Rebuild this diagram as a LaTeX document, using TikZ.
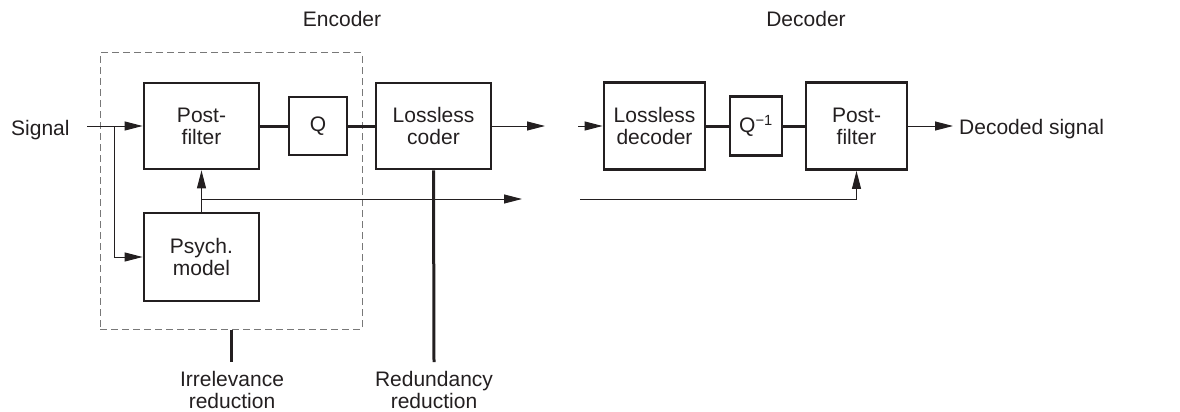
\documentclass[tikz,border=0pt]{standalone}
\usepackage{fontspec}
\setmainfont{Liberation Sans}
\usetikzlibrary{arrows.meta}
\definecolor{ink}{RGB}{35,31,32}
\definecolor{frame}{RGB}{120,120,120}
\tikzset{
  blk/.style={draw=ink, line width=2.8pt, inner sep=0pt, align=center,
    text=ink, font=\fontsize{21}{22}\selectfont},
  lbl/.style={inner sep=0pt, text=ink, font=\fontsize{21}{22}\selectfont},
  sig/.style={draw=ink, line width=1pt},
  arr/.style={sig, -{Triangle[length=18pt,width=9pt]}},
  bus/.style={draw=ink, line width=3pt},
  grp/.style={draw=frame, line width=1pt, dash pattern=on 7pt off 4pt,
    inner sep=0pt},
}
\begin{document}
\begin{tikzpicture}[x=1pt, y=-1pt]
\useasboundingbox (0,0) rectangle (1180,412);

% encoder group
\node[grp, minimum width=262pt, minimum height=276pt] (enc) at (231,191) {};

% encoder blocks
\node[blk, minimum width=115pt, minimum height=86pt] (pf1) at (201.5,126) {Post-\\filter};
\node[blk, minimum width=58pt, minimum height=58pt] (q) at (318,126) {Q};
\node[blk, minimum width=115pt, minimum height=86pt] (lc) at (433.5,126) {Lossless\\coder};
\node[blk, minimum width=115pt, minimum height=88pt] (pm) at (201.5,257) {Psych.\\model};

% decoder blocks
\node[blk, minimum width=101pt, minimum height=87pt] (ld) at (654.5,126) {Lossless\\decoder};
\node[blk, minimum width=52pt, minimum height=59pt] (qi) at (756,126) {Q\textsuperscript{−1}};
\node[blk, minimum width=101pt, minimum height=87pt] (pf2) at (856.5,126) {Post-\\filter};

% labels
\node[lbl, anchor=base] (enclbl) at (342,27) {Encoder};
\node[lbl, anchor=base] (declbl) at (806,27) {Decoder};
\node[lbl, anchor=base west] (sigin) at (11,135) {Signal};
\node[lbl, anchor=base west] (sigout) at (959,134) {Decoded signal};
\node[lbl, align=center, anchor=north] (irl) at (232,371) {Irrelevance\\reduction};
\node[lbl, align=center, anchor=north] (rdl) at (434,371) {Redundancy\\reduction};

% helper points
\coordinate (s0) at (87,126);
\coordinate (br) at (114,126);
\coordinate (tap) at (201.5,199);
\coordinate (f1) at (522,199);
\coordinate (f2) at (580,199);
\coordinate (o1) at (545,126);
\coordinate (i1) at (578,126);
\coordinate (o2) at (953,126);
\coordinate (irr) at (231,362);
\coordinate (rdd) at (434,362);

% signal input
\draw[arr] (s0) -- (pf1.west);
\draw[arr] (br) |- (pm.west);

% side information path
\draw[arr] (pm.north) -- (pf1.south);
\draw[arr] (tap) -- (f1);
\draw[arr] (f2) -| (pf2.south);

% main chain
\draw[bus] (pf1.east) -- (q.west);
\draw[bus] (q.east) -- (lc.west);
\draw[arr] (lc.east) -- (o1);
\draw[arr] (i1) -- (ld.west);
\draw[bus] (ld.east) -- (qi.west);
\draw[bus] (qi.east) -- (pf2.west);
\draw[arr] (pf2.east) -- (o2);

% reduction pointers
\draw[bus] (enc.south) -- (irr);
\draw[bus] (lc.south) -- (rdd);
\end{tikzpicture}
\end{document}
